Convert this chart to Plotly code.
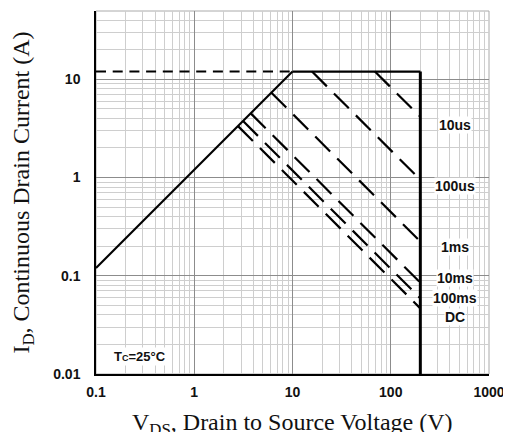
import math
import plotly.graph_objects as go

# ---- data ----
# R_DS(on) limited line
rds_vds = [0.1, 10]
rds_id = [0.12, 12]
# package current limit: dashed part and solid part
ilim_dash_vds = [0.1, 10]
ilim_dash_id = [12, 12]
ilim_vds = [10, 200]
ilim_id = [12, 12]
# breakdown voltage limit
bv_vds = [200, 200]
bv_id = [12, 0.01]

# pulse-width SOA boundaries
soa_labels = ["10us", "100us", "1ms", "10ms", "100ms", "DC"]
soa_v_start = [69, 15.8, 6.1, 3.76, 3.14, 2.79]
soa_i_start = [12, 12, 7.3, 4.5, 3.76, 3.34]
soa_v_end = [200, 200, 200, 200, 200, 200]
soa_i_end = [4.16, 0.95, 0.223, 0.085, 0.059, 0.0466]

x_ticks = [0.1, 1, 10, 100, 1000]
x_ticktext = ["0.1", "1", "10", "100", "1000"]
y_ticks = [0.01, 0.1, 1, 10]
y_ticktext = ["0.01", "0.1", "1", "10"]

x_title = "V<sub>DS</sub>, Drain to Source Voltage (V)"
y_title = "I<sub>D</sub>, Continuous Drain Current (A)"

fig = go.Figure()

BLK = "#000000"
fig.add_trace(go.Scatter(x=ilim_dash_vds, y=ilim_dash_id, mode="lines",
                         line=dict(color=BLK, width=2, dash="10px,6.7px"), hoverinfo="skip"))
fig.add_trace(go.Scatter(x=rds_vds, y=rds_id, mode="lines",
                         line=dict(color=BLK, width=2.2), hoverinfo="skip"))
fig.add_trace(go.Scatter(x=ilim_vds, y=ilim_id, mode="lines",
                         line=dict(color=BLK, width=2.2), hoverinfo="skip"))
for vs, is_, ve, ie in zip(soa_v_start, soa_i_start, soa_v_end, soa_i_end):
    fig.add_trace(go.Scatter(x=[vs, ve], y=[is_, ie], mode="lines",
                             line=dict(color=BLK, width=2.2, dash="21px,10px"), hoverinfo="skip"))
fig.add_trace(go.Scatter(x=bv_vds, y=bv_id, mode="lines",
                         line=dict(color=BLK, width=3), hoverinfo="skip"))

# label placement (layout only; log axes take log10 positions)
label_x = 450
label_y = [3.42, 0.823, 0.197, 0.0947, 0.0593, 0.038]
for lab, ly in zip(soa_labels, label_y):
    fig.add_annotation(x=math.log10(label_x), y=math.log10(ly), xref="x", yref="y",
                       text="<b>%s</b>" % lab,
                       showarrow=False, xanchor="center", yanchor="middle",
                       bgcolor="white", borderpad=0,
                       font=dict(family="Arial, Liberation Sans", size=14, color="#111"))

fig.add_annotation(x=math.log10(0.28), y=math.log10(0.0149), xref="x", yref="y",
                   text="<b>T<span style='font-size:9px'>C</span>=25°C</b>",
                   showarrow=False, xanchor="center", yanchor="middle",
                   bgcolor="white", borderpad=1,
                   font=dict(family="Arial, Liberation Sans", size=13, color="#111"))

titlefont = dict(family="Times New Roman, Liberation Serif", size=24, color="#111")

# x-axis title, placed low so the bottom edge of the page trims it as in the reference
fig.add_annotation(x=0.5, y=-0.093, xref="paper", yref="paper", text=x_title,
                   showarrow=False, xanchor="center", yanchor="top", borderpad=0,
                   font=titlefont)

# gray frame on top/right
fig.add_shape(type="rect", xref="paper", yref="paper", x0=0, y0=0, x1=1, y1=1,
              line=dict(color="#aaaaaa", width=1), layer="below")

tickfont = dict(family="Arial, Liberation Sans", size=14, color="#111", weight="bold")

fig.update_xaxes(type="log", range=[-1, 3], tickvals=x_ticks, ticktext=x_ticktext,
                 showgrid=True, gridcolor="#8c8c8c", gridwidth=1,
                 minor=dict(showgrid=True, gridcolor="#cecece", gridwidth=1,
                            tickmode="array",
                            tickvals=[m * 10 ** e for e in range(-1, 3) for m in range(2, 10)]),
                 showline=True, linecolor=BLK, linewidth=1.5,
                 ticks="", tickfont=tickfont, ticklabelstandoff=4,
                 zeroline=False, automargin=False)
fig.update_yaxes(type="log", range=[-2, 1.6955], tickvals=y_ticks, ticktext=y_ticktext,
                 showgrid=True, gridcolor="#8c8c8c", gridwidth=1,
                 minor=dict(showgrid=True, gridcolor="#cecece", gridwidth=1,
                            tickmode="array",
                            tickvals=[m * 10 ** e for e in range(-2, 2) for m in range(2, 10)]),
                 showline=True, linecolor=BLK, linewidth=1.5,
                 ticks="", tickfont=tickfont, ticklabelstandoff=11,
                 title=dict(text=y_title, font=titlefont, standoff=20),
                 zeroline=False, automargin=False)

# the page body adds an 8px offset, so the figure is sized to fill the window
fig.update_layout(width=503, height=424, showlegend=False,
                  margin=dict(l=88, r=22, t=3, b=58),
                  plot_bgcolor="white", paper_bgcolor="white")

fig.write_html("out.html")
